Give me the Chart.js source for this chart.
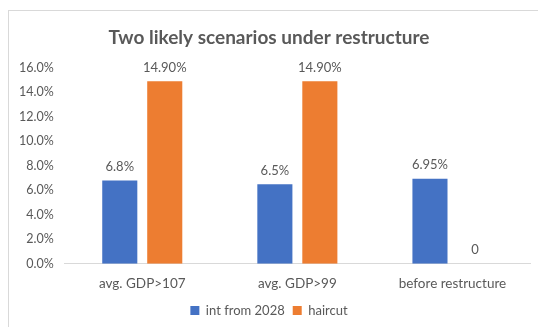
<!DOCTYPE html>
<html>
<head>
<meta charset="utf-8">
<script src="https://cdn.jsdelivr.net/npm/chart.js@4"></script>
<style>
  html, body { margin: 0; padding: 0; background: #fff; }
  #wrap { position: relative; width: 538px; height: 327px; overflow: hidden; }
  #frame { position: absolute; left: 8px; top: 10px; width: 560px; height: 340px; border: 1px solid #d9d9d9; }
  canvas { position: absolute; left: 0; top: 0; }
</style>
</head>
<body>
<div id="wrap">
  <div id="frame"></div>
  <canvas id="chart" width="538" height="327"></canvas>
</div>
<script>
// values in percent
const categories = ["avg. GDP>107", "avg. GDP>99", "before restructure"];
const intFrom2028 = [6.8, 6.5, 6.95];
const haircut = [14.9, 14.9, 0];
const intLabels = ["6.8%", "6.5%", "6.95%"];
const haircutLabels = ["14.90%", "14.90%", "0"];
const yTicks = [0, 2, 4, 6, 8, 10, 12, 14, 16];

const GRAY = "#595959";
const FONT = "Lato, 'Open Sans', sans-serif";

// draws the value text above each bar
const barLabels = {
  id: "barLabels",
  afterDatasetsDraw(chart) {
    const ctx = chart.ctx;
    const texts = [intLabels, haircutLabels];
    ctx.save();
    ctx.fillStyle = GRAY;
    ctx.font = "13px " + FONT;
    ctx.textAlign = "center";
    ctx.textBaseline = "bottom";
    chart.data.datasets.forEach((ds, i) => {
      chart.getDatasetMeta(i).data.forEach((bar, j) => {
        ctx.fillText(texts[i][j], bar.x, bar.y - 7);
      });
    });
    ctx.restore();
  },
};

new Chart(document.getElementById("chart"), {
  type: "bar",
  data: {
    labels: categories,
    datasets: [
      { label: "int from 2028", data: intFrom2028, backgroundColor: "#4472C4" },
      { label: "haircut", data: haircut, backgroundColor: "#ED7D31" },
    ],
  },
  options: {
    responsive: false,
    animation: false,
    devicePixelRatio: 1,
    categoryPercentage: 0.58,
    barPercentage: 0.78,
    layout: { padding: { left: 8, right: 8, top: 20, bottom: 0 } },
    plugins: {
      title: {
        display: true,
        text: "Two likely scenarios under restructure",
        color: GRAY,
        font: { family: FONT, size: 19, weight: "bold" },
        padding: { top: 6, bottom: 19 },
      },
      legend: {
        position: "bottom",
        labels: {
          color: GRAY,
          font: { family: FONT, size: 13 },
          boxWidth: 9,
          boxHeight: 9,
          padding: 8,
        },
      },
      tooltip: { enabled: false },
    },
    scales: {
      x: {
        grid: { display: false },
        border: { display: true, color: "#d9d9d9" },
        ticks: { color: GRAY, font: { family: FONT, size: 13.5 }, padding: 4 },
      },
      y: {
        min: 0,
        max: 16,
        afterBuildTicks: (axis) => { axis.ticks = yTicks.map((v) => ({ value: v })); },
        grid: { display: false, drawTicks: false },
        border: { display: false },
        ticks: {
          color: GRAY,
          font: { family: FONT, size: 12.5 },
          padding: 11,
          callback: (v) => v.toFixed(1) + "%",
        },
      },
    },
  },
  plugins: [barLabels],
});
</script>
</body>
</html>
